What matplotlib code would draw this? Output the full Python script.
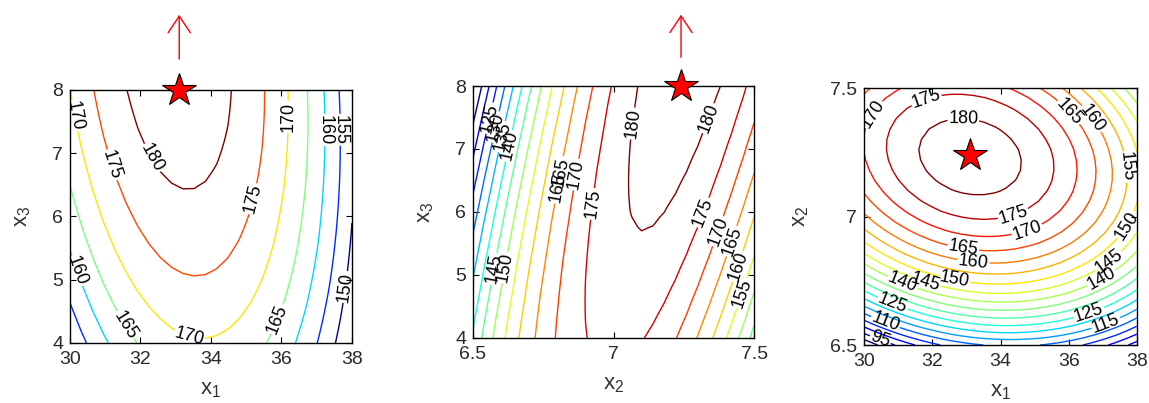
import numpy as np
import matplotlib.pyplot as plt

plt.rcParams['font.family'] = ['Liberation Sans', 'DejaVu Sans']

# quadratic response surface (centred coefficients), optimum marked by the star
center = [33.1, 7.24, 8.0]
b0 = 183.0
b_lin = [0.0, -2.0, 0.97]
b_sq = [-1.36, -138.0, -0.63]
b_int = [-4.5, -0.435, 15.5]   # x1*x2, x1*x3, x2*x3

x1_range = [30, 38]
x2_range = [6.5, 7.5]
x3_range = [4, 8]

levels_13 = np.arange(150, 181, 5)
levels_23 = np.arange(115, 181, 5)
levels_12 = np.arange(90, 181, 5)

opt = [33.1, 7.24, 8.0]

# label spots (approx. where the original put them)
lab_13 = [(30.2, 7.6), (31.04, 6.79), (32.22, 6.89), (35.34, 6.26), (36.15, 7.58),
          (37.14, 7.37), (37.57, 7.37), (37.75, 4.89), (30.24, 5.15),
          (31.51, 4.26), (33.4, 4.13), (35.96, 4.36)]
lab_23 = [(7.059, 7.41), (7.337, 7.49), (6.905, 6.14), (7.314, 6.0), (7.361, 5.71),
          (7.403, 5.56), (7.444, 5.13), (7.456, 4.71), (6.78, 6.4), (6.82, 6.5),
          (6.86, 6.6), (6.596, 5.13), (6.57, 5.1), (6.55, 7.5), (6.58, 7.35),
          (6.6, 7.2), (6.63, 7.05)]
lab_12 = [(32.91, 7.38), (31.84, 7.45), (30.37, 7.39), (36.04, 7.41), (36.62, 7.375),
          (37.5, 7.19), (37.75, 6.96), (34.37, 7.01), (34.77, 6.95), (32.91, 6.876),
          (33.2, 6.82), (32.67, 6.77), (31.84, 6.76), (31.15, 6.75), (30.8, 6.65),
          (30.6, 6.58), (30.5, 6.53), (37.2, 6.82), (37.0, 6.75), (36.6, 6.62),
          (37.1, 6.58)]


def yhat(x1, x2, x3):
    u = x1 - center[0]
    v = x2 - center[1]
    w = x3 - center[2]
    return (b0 + b_lin[0]*u + b_lin[1]*v + b_lin[2]*w
            + b_sq[0]*u*u + b_sq[1]*v*v + b_sq[2]*w*w
            + b_int[0]*u*v + b_int[1]*u*w + b_int[2]*v*w)


n = 26
g1 = np.linspace(*x1_range, n)
g2 = np.linspace(*x2_range, n)
g3 = np.linspace(*x3_range, n)

fig = plt.figure(figsize=(11.49, 4.03), dpi=100)
ax1 = fig.add_axes([0.0609, 0.1489, 0.2454, 0.6278])
ax2 = fig.add_axes([0.4117, 0.1613, 0.2446, 0.6253])
ax3 = fig.add_axes([0.7520, 0.1439, 0.2376, 0.6377])

arrow = dict(arrowstyle='->, head_length=0.6, head_width=0.4',
             color='red', lw=1.0, mutation_scale=20)


def panel(ax, X, Y, Z, levels, labs, xlab, ylab):
    cs = ax.contour(X, Y, Z, levels=levels, cmap='jet',
                    vmin=levels[0], vmax=levels[-1], linewidths=1.0)
    ax.clabel(cs, fmt='%d', fontsize=13, colors='k', inline=True,
              inline_spacing=1, manual=labs)
    ax.tick_params(direction='in', top=True, right=True, length=4,
                   labelsize=14, labelcolor='#2a2a2a')
    ax.tick_params(axis='x', pad=6)
    ax.tick_params(axis='y', pad=5)
    ax.set_xlabel(xlab, fontsize=16, color='#333333', labelpad=8)
    ax.set_ylabel(ylab, fontsize=16, color='#333333', labelpad=14)
    for s in ax.spines.values():
        s.set_linewidth(1.0)


# panel 1: x1-x3 at x2 optimum
X, Y = np.meshgrid(g1, g3)
panel(ax1, X, Y, yhat(X, opt[1], Y), levels_13, lab_13,
      r'$\mathregular{x_1}$', r'$\mathregular{x_3}$')
ax1.set_xticks([30, 32, 34, 36, 38])
ax1.set_yticks([4, 5, 6, 7, 8])
ax1.plot(opt[0], opt[2], marker='*', ms=25, mfc='red', mec='k', mew=0.8,
         clip_on=False, zorder=5)
ax1.annotate('', xy=(opt[0], 1.308), xytext=(opt[0], 1.111),
             xycoords=('data', 'axes fraction'), textcoords=('data', 'axes fraction'),
             arrowprops=arrow)

# panel 2: x2-x3 at x1 optimum
X, Y = np.meshgrid(g2, g3)
panel(ax2, X, Y, yhat(opt[0], X, Y), levels_23, lab_23,
      r'$\mathregular{x_2}$', r'$\mathregular{x_3}$')
ax2.set_xticks([6.5, 7, 7.5])
ax2.set_xticklabels(['6.5', '7', '7.5'])
ax2.set_yticks([4, 5, 6, 7, 8])
ax2.plot(opt[1], opt[2], marker='*', ms=25, mfc='red', mec='k', mew=0.8,
         clip_on=False, zorder=5)
ax2.annotate('', xy=(opt[1], 1.294), xytext=(opt[1], 1.103),
             xycoords=('data', 'axes fraction'), textcoords=('data', 'axes fraction'),
             arrowprops=arrow)

# panel 3: x1-x2 at x3 optimum
X, Y = np.meshgrid(g1, g2)
panel(ax3, X, Y, yhat(X, Y, opt[2]), levels_12, lab_12,
      r'$\mathregular{x_1}$', r'$\mathregular{x_2}$')
ax3.set_xticks([30, 32, 34, 36, 38])
ax3.set_yticks([6.5, 7, 7.5])
ax3.set_yticklabels(['6.5', '7', '7.5'])
ax3.plot(opt[0], opt[1], marker='*', ms=25, mfc='red', mec='k', mew=0.8,
         clip_on=False, zorder=5)

fig.savefig('out.png', dpi=100)
